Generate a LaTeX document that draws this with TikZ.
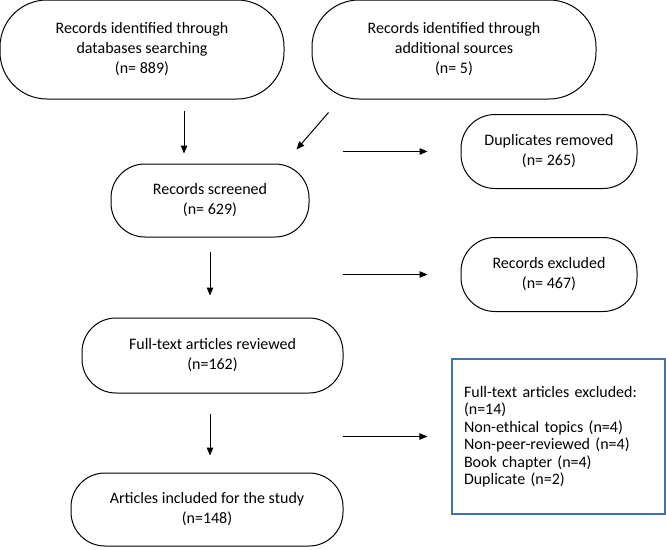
\documentclass[tikz,border=0pt]{standalone}
\usepackage{fontspec}
\setmainfont{Carlito}
\usetikzlibrary{positioning, arrows.meta}
\definecolor{boxblue}{RGB}{65,113,170}
\tikzset{
stage/.style={shape=rectangle, draw, rounded corners=34pt, line width=1pt, align=center, inner sep=0, font=\fontsize{16}{20}\selectfont}, source/.style={stage, rounded corners=47pt, minimum width=284pt, minimum height=99pt}, result/.style={stage, minimum width=176pt, minimum height=74pt}, reason/.style={draw=boxblue, line width=1.2pt, align=left, text width=189pt, minimum height=155pt, inner sep=12pt, font=\fontsize{16}{17.5}\selectfont}, flow/.style={-{Triangle[length=8pt, width=6.5pt]}, line width=1pt}}

\begin{document}
\begin{tikzpicture}[x=1pt, y=-1pt]
\useasboundingbox (0,0) rectangle (666,549);
 \node [source] (dbsearch) at (142,49.5) {Records identified through\\databases searching\\(n= 889)};
\node [source, right=27pt of dbsearch] (addsrc) {Records identified through\\additional sources\\(n= 5)};
\node [result] (dup) at (549,151.5) {Duplicates removed\\(n= 265)};
\node [result, below=48pt of dup] (excl) {Records excluded\\(n= 467)};
\node [stage, minimum width=198pt, minimum height=73pt] (screened) at (210,200.5) {Records screened\\(n= 629)};
\node [stage, minimum width=261pt, minimum height=75pt] (fulltext) at (212.5,355.5) {Full-text articles reviewed\\(n=162)};
\node [stage, minimum width=272pt, minimum height=73pt] (included) at (207,509.5) {Articles included for the study\\(n=148)};
 \node [reason] (ftexcl) at (558.5,436.5) {Full-text articles excluded:\\(n=14)\\Non-ethical topics (n=4)\\Non-peer-reviewed (n=4)\\Book chapter (n=4)\\Duplicate (n=2)};
\draw [flow, shorten <=11pt, shorten >=10pt] ([xshift=42pt]dbsearch.south) -- ([xshift=42pt]dbsearch.south |- screened.north);
\draw [flow] ([xshift=17pt, yshift=-13pt]addsrc.south west) -- ([xshift=-13pt, yshift=14pt]screened.north east);
\draw [flow, shorten <=33pt, shorten >=33pt] (screened.east |- dup.west) -- (dup.west);
\draw [flow, shorten <=33pt, shorten >=33pt] (screened.east |- excl.west) -- (excl.west);
\draw [flow, shorten <=33pt, shorten >=24pt] (screened.east |- ftexcl.west) -- (ftexcl.west);
\draw [flow, shorten <=14pt, shorten >=22pt] (screened.south) -- (screened.south |- fulltext.north);
\draw [flow, shorten <=20pt, shorten >=17pt] (screened.south |- fulltext.south) -- (screened.south |- included.north);
\end{tikzpicture}
\end{document}
